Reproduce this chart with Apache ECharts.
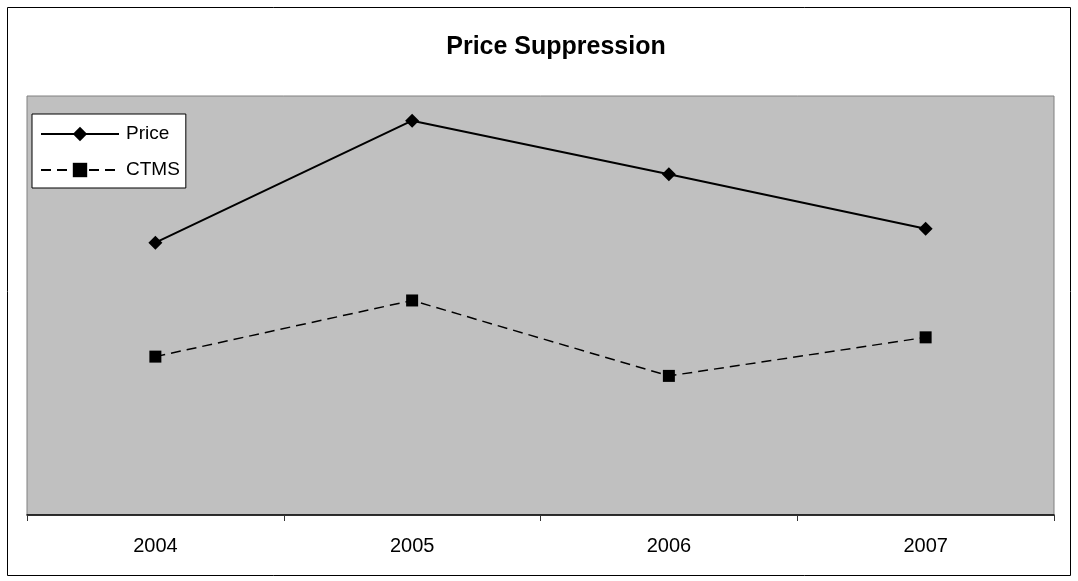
<!DOCTYPE html>
<html>
<head>
<meta charset="utf-8">
<style>
  html, body { margin: 0; padding: 0; background: #ffffff; }
  #chart { width: 1078px; height: 581px; }
</style>
<script src="https://cdn.jsdelivr.net/npm/echarts@6/dist/echarts.min.js"></script>
</head>
<body>
<div id="chart"></div>
<script>
// Years along the category axis
const years = ['2004', '2005', '2006', '2007'];
// Series values (relative index, no value axis shown)
const priceValues = [65.0, 94.1, 81.3, 68.3];
const ctmsValues = [37.8, 51.2, 33.2, 42.4];
const seriesNames = ['Price', 'CTMS'];
const titleText = 'Price Suppression';

const chart = echarts.init(document.getElementById('chart'), null, { renderer: 'canvas' });

const font = '"Liberation Sans", Arial, sans-serif';

chart.setOption({
  animation: false,
  backgroundColor: '#ffffff',
  title: {
    text: titleText,
    left: 551,
    textAlign: 'center',
    top: 30,
    textStyle: { fontFamily: font, fontSize: 25, fontWeight: 'bold', color: '#000000' }
  },
  graphic: [{
    type: 'rect',
    shape: { x: 7.5, y: 7.5, width: 1063, height: 568 },
    style: { fill: 'none', stroke: '#000000', lineWidth: 1 },
    silent: true,
    z: 0
  }],
  legend: {
    data: seriesNames,
    orient: 'vertical',
    left: 32,
    top: 114,
    padding: [10, 6, 8, 8],
    itemGap: 16,
    itemWidth: 78,
    itemHeight: 18,
    backgroundColor: '#ffffff',
    borderColor: '#000000',
    borderWidth: 1,
    textStyle: { fontFamily: font, fontSize: 19, lineHeight: 20, color: '#000000', padding: [0, 0, 0, 2] }
  },
  grid: {
    show: true,
    left: 27,
    right: 24,
    top: 96,
    bottom: 66,
    backgroundColor: '#c0c0c0',
    borderColor: '#808080',
    borderWidth: 1
  },
  xAxis: {
    type: 'category',
    data: years,
    boundaryGap: true,
    axisLine: { show: true, lineStyle: { color: '#000000', width: 1.5 } },
    axisTick: { show: true, length: 6, lineStyle: { color: '#333333' } },
    axisLabel: { margin: 21, fontFamily: font, fontSize: 20, color: '#000000' },
    splitLine: { show: false }
  },
  yAxis: {
    type: 'value',
    min: 0,
    max: 100,
    show: false,
    splitLine: { show: false }
  },
  series: [
    {
      name: seriesNames[0],
      type: 'line',
      data: priceValues,
      symbol: 'diamond',
      symbolSize: 14,
      itemStyle: { color: '#000000' },
      lineStyle: { color: '#000000', width: 2, type: 'solid' }
    },
    {
      name: seriesNames[1],
      type: 'line',
      data: ctmsValues,
      symbol: 'rect',
      symbolSize: 12,
      itemStyle: { color: '#000000' },
      lineStyle: { color: '#000000', width: 1.5, type: [10, 6] }
    }
  ]
});
</script>
</body>
</html>
